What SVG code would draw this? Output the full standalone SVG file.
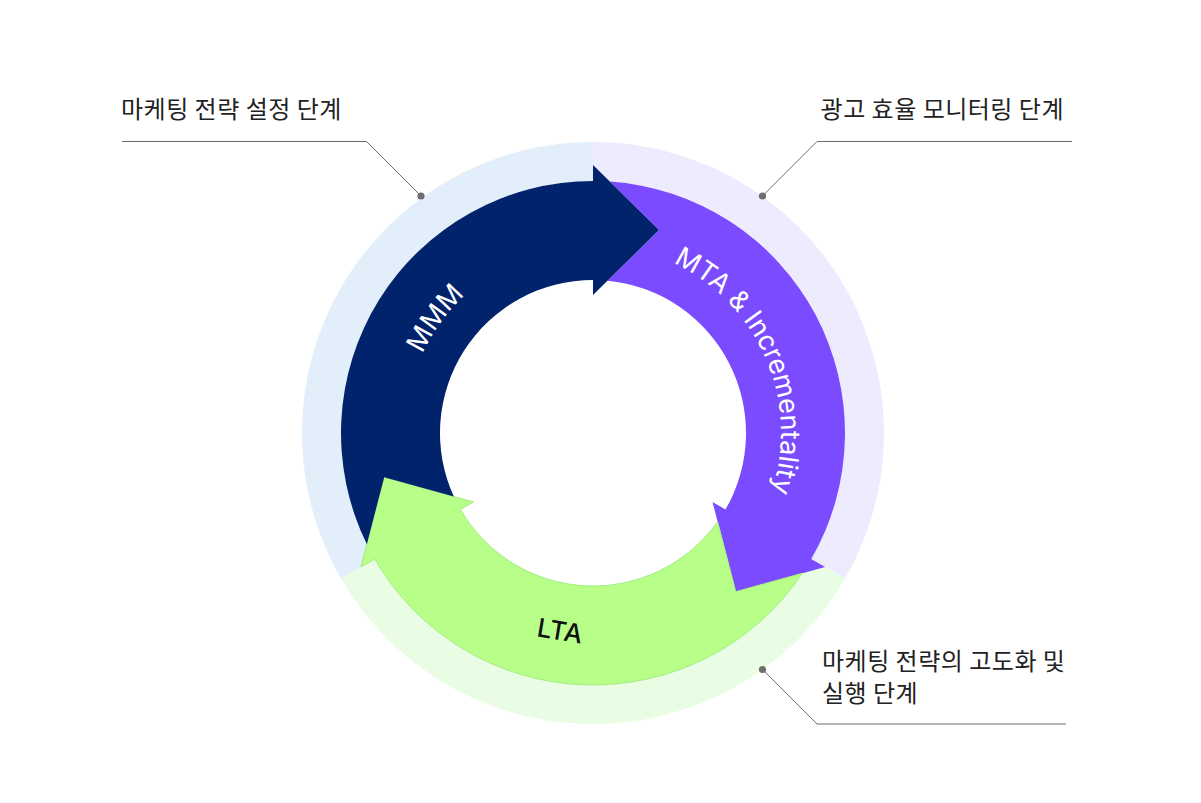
<svg xmlns="http://www.w3.org/2000/svg" xmlns:xlink="http://www.w3.org/1999/xlink" width="1201" height="803" viewBox="0 0 1201 803">
<style>
.lbl{font-family:"Noto Sans CJK KR","Noto Sans",sans-serif;font-size:24px;letter-spacing:0.5px;fill:#222222}
.arrowtxt{font-family:Inter,"Noto Sans",sans-serif;font-size:27px;font-weight:400;fill:#ffffff}
.lead{fill:none;stroke:#6b6b6b;stroke-width:1}
.dot{fill:#6e6e6e}
</style>
<defs>
<path id="circ" d="M 405 433 A 188 188 0 0 1 781 433 A 188 188 0 0 1 405 433"/>
</defs>
<rect width="1201" height="803" fill="#ffffff"/>
<g id="ring">
<path d="M 340.99 578.5 A 291 291 0 0 1 593 142 L 593 181 A 252 252 0 0 0 374.76 559 Z" fill="#e2effa"/>
<path d="M 593 142 A 291 291 0 0 1 845.01 578.5 L 811.24 559 A 252 252 0 0 0 593 181 Z" fill="#eeebfe"/>
<path d="M 845.01 578.5 A 291 291 0 0 1 340.99 578.5 L 374.76 559 A 252 252 0 0 0 811.24 559 Z" fill="#e9fde4"/>
</g>
<g id="node-mta">
<path d="M 609.82 181.56 A 252 252 0 0 1 811.238 559 L 825.095 567 L 735.803 591.658 L 712.511 502 L 725.502 509.5 A 153 153 0 0 0 607.53 280.69 L 659 230 Z" fill="#7a4bff"/>
<text class="arrowtxt"><textPath xlink:href="#circ" href="#circ" startOffset="514" text-anchor="middle">MTA &amp; Incrementality</textPath></text>
</g>
<g id="node-lta">
<path d="M 802.344 573.287 A 252 252 0 0 1 374.762 559 L 360.905 567 L 384.197 477.342 L 473.489 502 L 460.498 509.5 A 153 153 0 0 0 717.639 521.738 L 735.803 591.658 Z" fill="#b8ff8a" stroke="#a3ec80" stroke-width="1"/>
<text transform="translate(560 630.5) rotate(9.4)" x="0" y="9.5" text-anchor="middle" style="font-family:Inter,'Noto Sans',sans-serif;font-size:26px;font-weight:500;fill:#111111">LTA</text>
</g>
<g id="node-mmm">
<path d="M 366.836 544.153 A 252 252 0 0 1 593 181 L 593 165 L 659 230 L 593 295 L 593 280 A 153 153 0 0 0 453.831 496.572 L 384.197 477.342 Z" fill="#01236b"/>
<text class="arrowtxt"><textPath xlink:href="#circ" href="#circ" startOffset="118.1" text-anchor="middle">MMM</textPath></text>
</g>
<g id="connectors">
<path class="lead" d="M 122 141.5 H 366.5 L 421 196"/>
<circle class="dot" cx="421" cy="196" r="3.6"/>
<path class="lead" d="M 1072 141.5 H 817 L 762.5 196"/>
<circle class="dot" cx="762.5" cy="196" r="3.6"/>
<path class="lead" d="M 762.5 669.5 L 817 724 H 1066"/>
<circle class="dot" cx="762.5" cy="669.5" r="3.6"/>
</g>
<g id="label-plan">
<text class="lbl" x="121" y="118">마케팅 전략 설정 단계</text>
</g>
<g id="label-monitor">
<text class="lbl" x="1064" y="118" text-anchor="end">광고 효율 모니터링 단계</text>
</g>
<g id="label-advance">
<text class="lbl" x="822" y="670">마케팅 전략의 고도화 및</text>
<text class="lbl" x="822" y="701.5">실행 단계</text>
</g>
</svg>
